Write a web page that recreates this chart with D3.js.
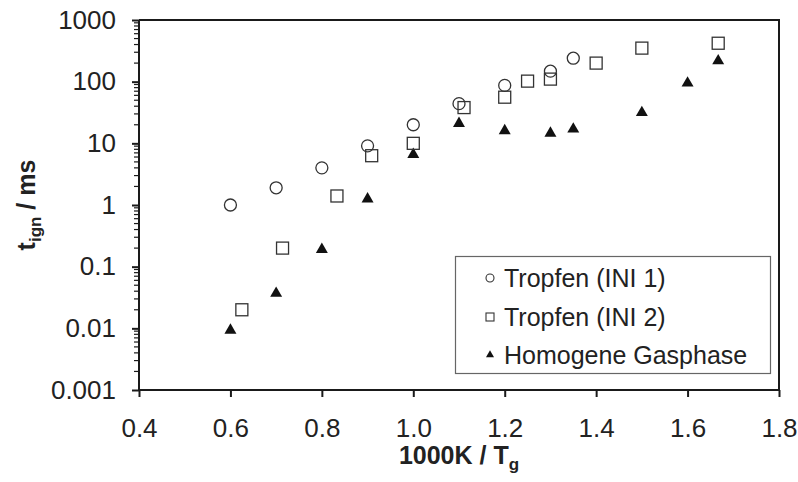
<!DOCTYPE html>
<html><head><meta charset="utf-8">
<script src="https://cdn.jsdelivr.net/npm/d3@7"></script>
<style>body{margin:0;background:#fff}svg{display:block;font-family:"Liberation Sans",Arial,sans-serif}</style>
</head><body><svg id="c" width="798" height="482"></svg>
<script>
const xTicks = [0.4,0.6,0.8,1.0,1.2,1.4,1.6,1.8];
const yTicks = [0.001,0.01,0.1,1,10,100,1000];
const yTickLabels = ["0.001","0.01","0.1","1","10","100","1000"];

const ini1X = [0.6,0.7,0.8,0.9,1.0,1.1,1.2,1.3,1.35];
const ini1Y = [1.0,1.9,4.0,9.1,20,44,87,148,240];
const ini2X = [0.625,0.714,0.833,0.909,1.0,1.111,1.2,1.25,1.3,1.4,1.5,1.667];
const ini2Y = [0.02,0.2,1.4,6.3,10,38,56,102,110,200,350,420];
const gasX = [0.6,0.7,0.8,0.9,1.0,1.1,1.2,1.3,1.35,1.5,1.6,1.667];
const gasY = [0.0093,0.037,0.19,1.25,6.6,21,16,14.6,17,31.5,95,218];
const legendLabels = ["Tropfen (INI 1)","Tropfen (INI 2)","Homogene Gasphase"];

const svg = d3.select("#c");
const L=139,R=779,T=20,B=390;
const x = d3.scaleLinear().domain([0.4,1.8]).range([L,R]);
const y = d3.scaleLog().domain([0.001,1000]).range([B,T]);
const ink="#1a1a1a";

// frame top/right
svg.append("path").attr("d",`M${L},${T}H${R}V${B}`).attr("fill","none").attr("stroke",ink).attr("stroke-width",2);

// minor y ticks
const minor=[];
for(let e=-3;e<3;e++) for(let m=2;m<=9;m++) minor.push(m*Math.pow(10,e));
svg.append("g").selectAll("line").data(minor).join("line")
  .attr("x1",L-5).attr("x2",L).attr("y1",d=>y(d)).attr("y2",d=>y(d))
  .attr("stroke",ink).attr("stroke-width",1.2);

const gy = svg.append("g").attr("transform",`translate(${L},0)`)
  .call(d3.axisLeft(y).tickValues(yTicks).tickSize(7).tickPadding(16).tickFormat((d,i)=>yTickLabels[i]));
const gx = svg.append("g").attr("transform",`translate(0,${B})`)
  .call(d3.axisBottom(x).tickValues(xTicks).tickSize(7).tickPadding(22).tickFormat(d3.format(".1f")));
[gx,gy].forEach(g=>{
  g.select(".domain").attr("stroke",ink).attr("stroke-width",2);
  g.selectAll(".tick line").attr("stroke",ink).attr("stroke-width",2);
  g.selectAll("text").attr("font-size",26).attr("fill","#222").attr("font-family","Liberation Sans, Arial, sans-serif");
});
gx.select(".domain").attr("d",`M${L},0H${R}`);
gy.select(".domain").attr("d",`M0,${B}V${T}`);

// axis titles
const xt = svg.append("text").attr("x",459).attr("y",464).attr("text-anchor","middle")
  .attr("font-size",25).attr("font-weight","bold").attr("fill","#222");
xt.append("tspan").text("1000K / T");
xt.append("tspan").attr("font-size",17).attr("dy",6).text("g");

const yt = svg.append("text").attr("transform",`translate(35,205) rotate(-90)`).attr("text-anchor","middle")
  .attr("font-size",25).attr("font-weight","bold").attr("fill","#222");
yt.append("tspan").text("t");
yt.append("tspan").attr("font-size",17).attr("dy",6).text("ign");
yt.append("tspan").attr("dy",-6).text(" / ms");

// markers
const tri = d3.symbol().type(d3.symbolTriangle).size(62);
svg.append("g").selectAll("path").data(gasX.map((v,i)=>[v,gasY[i]])).join("path")
  .attr("d",tri).attr("transform",d=>`translate(${x(d[0])},${y(d[1])})`).attr("fill","#111");
svg.append("g").selectAll("rect").data(ini2X.map((v,i)=>[v,ini2Y[i]])).join("rect")
  .attr("x",d=>x(d[0])-6).attr("y",d=>y(d[1])-6).attr("width",12).attr("height",12)
  .attr("fill","none").attr("stroke","#333").attr("stroke-width",1.3);
svg.append("g").selectAll("circle").data(ini1X.map((v,i)=>[v,ini1Y[i]])).join("circle")
  .attr("cx",d=>x(d[0])).attr("cy",d=>y(d[1])).attr("r",6)
  .attr("fill","none").attr("stroke","#333").attr("stroke-width",1.3);

// legend
const lg = svg.append("g");
lg.append("rect").attr("x",455.5).attr("y",256.5).attr("width",315).attr("height",117)
  .attr("fill","#fff").attr("stroke","#666").attr("stroke-width",1.2);
const rows=[278,317,355];
lg.append("circle").attr("cx",490).attr("cy",rows[0]).attr("r",4).attr("fill","none").attr("stroke","#333").attr("stroke-width",1.1);
lg.append("rect").attr("x",486).attr("y",rows[1]-4).attr("width",8).attr("height",8).attr("fill","none").attr("stroke","#333").attr("stroke-width",1.1);
lg.append("path").attr("d",d3.symbol().type(d3.symbolTriangle).size(28)).attr("transform",`translate(490,${rows[2]})`).attr("fill","#111");
lg.selectAll("text").data(legendLabels).join("text")
  .attr("x",504).attr("y",(d,i)=>rows[i]+9).attr("font-size",25).attr("fill","#222").text(d=>d);
</script></body></html>
